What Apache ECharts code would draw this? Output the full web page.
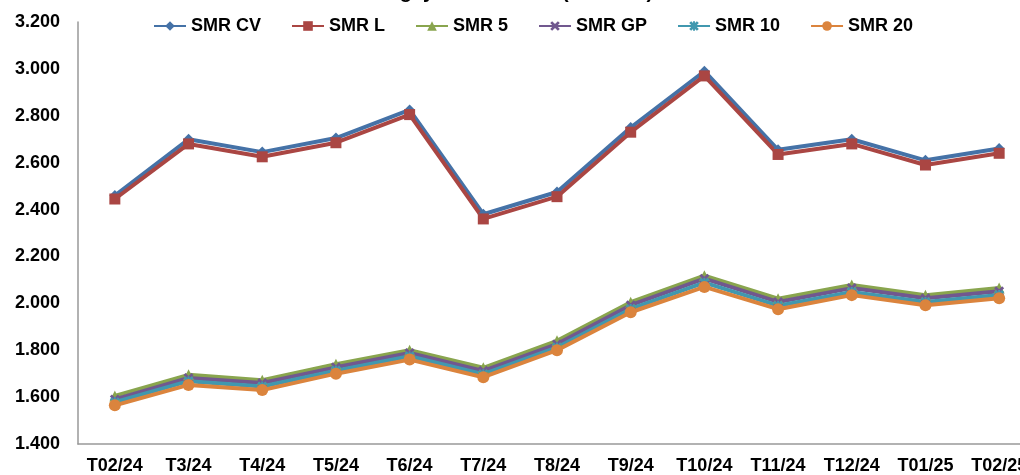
<!DOCTYPE html>
<html>
<head>
<meta charset="utf-8">
<script src="https://cdn.jsdelivr.net/npm/echarts@6/dist/echarts.min.js"></script>
<style>html,body{margin:0;padding:0;background:#fff;overflow:hidden;width:1020px;height:475px}#c{width:1036px;height:475px}</style>
</head>
<body>
<div id="c"></div>
<script>
const categories = ['T02/24','T3/24','T4/24','T5/24','T6/24','T7/24','T8/24','T9/24','T10/24','T11/24','T12/24','T01/25','T02/25'];
const smrCV = [2460, 2700, 2645, 2705, 2825, 2380, 2475, 2750, 2990, 2655, 2700, 2610, 2660];
const smrL  = [2445, 2680, 2625, 2685, 2805, 2360, 2455, 2730, 2970, 2635, 2680, 2590, 2640];
const smr5  = [1605, 1695, 1672, 1740, 1800, 1725, 1840, 2005, 2118, 2020, 2078, 2035, 2065];
const smrGP = [1590, 1682, 1660, 1727, 1788, 1712, 1826, 1992, 2105, 2006, 2065, 2022, 2052];
const smr10 = [1578, 1668, 1645, 1713, 1774, 1698, 1812, 1976, 2088, 1990, 2048, 2006, 2036];
const smr20 = [1565, 1652, 1630, 1700, 1760, 1685, 1800, 1962, 2070, 1975, 2035, 1992, 2022];
const yTicks = {min: 1400, max: 3200, interval: 200};

const font = '"Liberation Sans", Arial, sans-serif';
const xPath = 'path://M0,2L2,0L5,3L8,0L10,2L7,5L10,8L8,10L5,7L2,10L0,8L3,5Z';
const astPath = 'path://M0,2L2,0L4,2L4,0L6,0L6,2L8,0L10,2L7,5L10,8L8,10L6,8L6,10L4,10L4,8L2,10L0,8L3,5Z';

function mk(name, data, color, symbol, size) {
  return {
    name, type: 'line', data, symbol, symbolSize: size,
    lineStyle: {color, width: 4},
    itemStyle: {color},
    emphasis: {disabled: true},
    animation: false
  };
}

const chart = echarts.init(document.getElementById('c'), null, {renderer: 'canvas'});
chart.setOption({
  backgroundColor: '#fff',
  animation: false,
  title: {
    text: 'Giá cao su SMR theo ngày trên các sàn (USD/tấn)',
    left: 183, top: -18, padding: 0,
    textStyle: {fontFamily: font, fontWeight: 'bold', fontSize: 20, color: '#000'}
  },
  legend: {
    top: 12, left: 148,
    itemWidth: 32, itemHeight: 12, itemGap: 30,
    textStyle: {fontFamily: font, fontWeight: 'bold', fontSize: 18, color: '#000'},
    data: ['SMR CV','SMR L','SMR 5','SMR GP','SMR 10','SMR 20']
  },
  grid: {left: 78, right: 0, top: 22, bottom: 31, containLabel: false},
  xAxis: {
    type: 'category', data: categories, boundaryGap: true,
    axisLine: {lineStyle: {color: '#999', width: 1.5}},
    axisTick: {show: false},
    axisLabel: {fontFamily: font, fontWeight: 'bold', fontSize: 18, color: '#000', margin: 13, interval: 0}
  },
  yAxis: {
    type: 'value', min: yTicks.min, max: yTicks.max, interval: yTicks.interval,
    axisLine: {show: true, lineStyle: {color: '#999', width: 1.5}},
    axisTick: {show: false},
    splitLine: {show: false},
    axisLabel: {fontFamily: font, fontWeight: 'bold', fontSize: 18, color: '#000', margin: 18,
      formatter: v => (v / 1000).toFixed(3)}
  },
  series: [
    mk('SMR CV', smrCV, '#4572A7', 'diamond', 11),
    mk('SMR L', smrL, '#AA4643', 'rect', 11),
    mk('SMR 5', smr5, '#89A54E', 'triangle', 11),
    mk('SMR GP', smrGP, '#71588F', xPath, 10),
    mk('SMR 10', smr10, '#4198AF', astPath, 10),
    mk('SMR 20', smr20, '#DB843D', 'circle', 12)
  ]
});
</script>
</body>
</html>
